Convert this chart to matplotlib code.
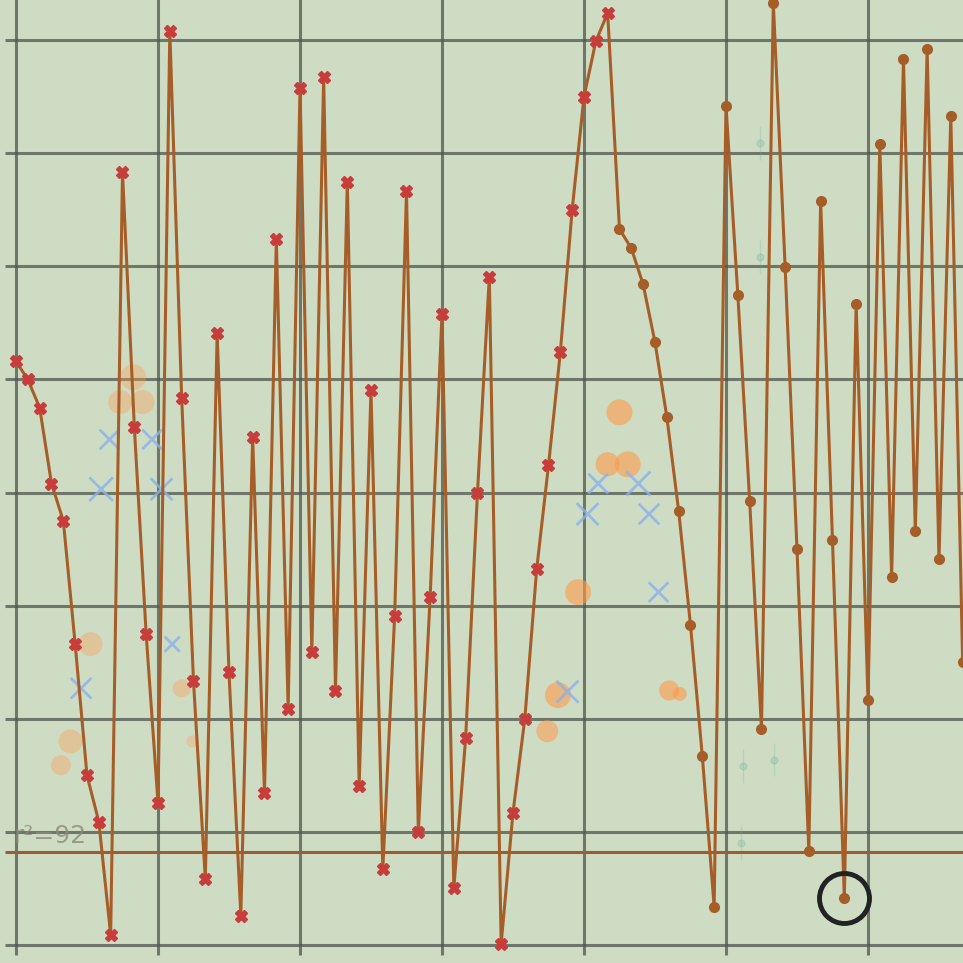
import matplotlib.pyplot as plt
import numpy as np

# main series (index -> value)
vals_x = [51.6, 50.0, 47.5, 40.8, 37.5, 26.6, 15.0, 10.9, 0.9, 68.3,
          45.8, 27.5, 12.6, 80.8, 48.4, 23.3, 5.8, 54.1, 24.1, 2.6,
          44.9, 13.4, 62.4, 20.9, 75.8, 25.9, 76.7, 22.5, 67.5, 14.1,
          49.1, 6.7, 29.1, 66.7, 10.0, 30.8, 55.8, 5.0, 18.3, 40.0,
          59.1, 0.1, 11.7, 20.0, 33.2, 42.4, 52.4, 65.0, 75.0, 79.9,
          82.4]
vals_dot = [63.3, 61.6, 58.4, 53.3, 46.7, 38.4, 28.3, 16.7, 3.4, 74.2,
            57.5, 39.3, 19.1, 83.3, 59.9, 35.0, 8.3, 65.8, 35.8, 4.2,
            56.7, 21.7, 70.8, 32.5, 78.3, 36.6, 79.2, 34.1, 73.3, 25.0]
values = vals_x + vals_dot
idx = np.arange(len(values))
n_x = len(vals_x)

# orange blobs
orange_x = [9.9, 8.8, 10.7, 6.3, 4.6, 3.8, 14.0, 14.9, 51.0, 50.0, 51.7, 47.5, 45.8, 44.9, 55.2, 56.1]
orange_y = [50.2, 48.0, 48.0, 26.6, 18.0, 15.9, 22.7, 18.0, 47.1, 42.5, 42.5, 31.2, 22.1, 18.9, 22.5, 22.2]
orange_s = [350, 300, 300, 300, 300, 210, 170, 75, 350, 300, 350, 350, 350, 250, 210, 100]
orange_a = [0.35, 0.35, 0.35, 0.35, 0.35, 0.35, 0.35, 0.3, 0.6, 0.6, 0.6, 0.6, 0.6, 0.55, 0.6, 0.6]

# blue crosses
blue_x = [7.9, 11.5, 7.2, 12.3, 13.2, 5.5, 49.2, 52.6, 48.3, 53.5, 54.3, 46.6]
blue_y = [44.7, 44.7, 40.3, 40.3, 26.6, 22.7, 40.8, 40.8, 38.1, 38.1, 31.2, 22.4]
blue_s = [200, 200, 290, 250, 120, 220, 200, 300, 250, 220, 200, 250]

# faint teal points
teal_x = [62.9, 62.9, 61.4, 64.1, 61.3]
teal_y = [70.9, 60.8, 15.8, 16.4, 9.0]

ref_level = 8.2
ref_label = 'r²=92'
highlight = 70

bg = '#cfdcc4'
fig = plt.figure(figsize=(9.63, 9.63), dpi=100, facecolor=bg)
ax = fig.add_axes([0, 0, 1, 1], facecolor=bg)
ax.set_xlim(-1.352, 80.03)
ax.set_ylim(-1.59, 83.55)
ax.axis('off')

# grid (drawn by hand so the lines stick out like ticks)
ax.hlines(np.arange(0, 81, 10), -0.93, 81, colors='#4f564d', lw=2.2, alpha=0.75, zorder=1)
ax.vlines(np.arange(0, 73, 12), -0.88, 84, colors='#4f564d', lw=2.2, alpha=0.75, zorder=1)

ax.scatter(orange_x, orange_y, s=orange_s, color='#ff9a4a', alpha=orange_a, lw=0, zorder=2)
ax.scatter(blue_x, blue_y, s=blue_s, marker='x', color='#8ab2ea', alpha=0.8, lw=2, zorder=2)
ax.errorbar(teal_x, teal_y, yerr=1.5, fmt='o', ms=5, color='#6fb39a', alpha=0.25, lw=1, zorder=2)

ax.hlines(ref_level, -0.93, 81, color='#9c5c36', lw=2.2, zorder=3)
ax.text(-0.2, 9.0, ref_label, fontsize=18, color='#8a8a78', alpha=0.8, va='baseline', zorder=3)

ax.plot(idx, values, color='#a65e28', lw=2.2, zorder=4)
ax.plot(idx[:n_x], vals_x, 'X', color='#c83c3c', ms=8.5, mec='#c83c3c', zorder=5)
ax.plot(idx[n_x:], vals_dot, 'o', color='#a65e28', ms=7, zorder=5)
ax.plot(idx[highlight], values[highlight], 'o', mfc='none', mec='#222222', ms=36, mew=3.5, zorder=6)

fig.savefig('out.png', dpi=100, facecolor=bg)
